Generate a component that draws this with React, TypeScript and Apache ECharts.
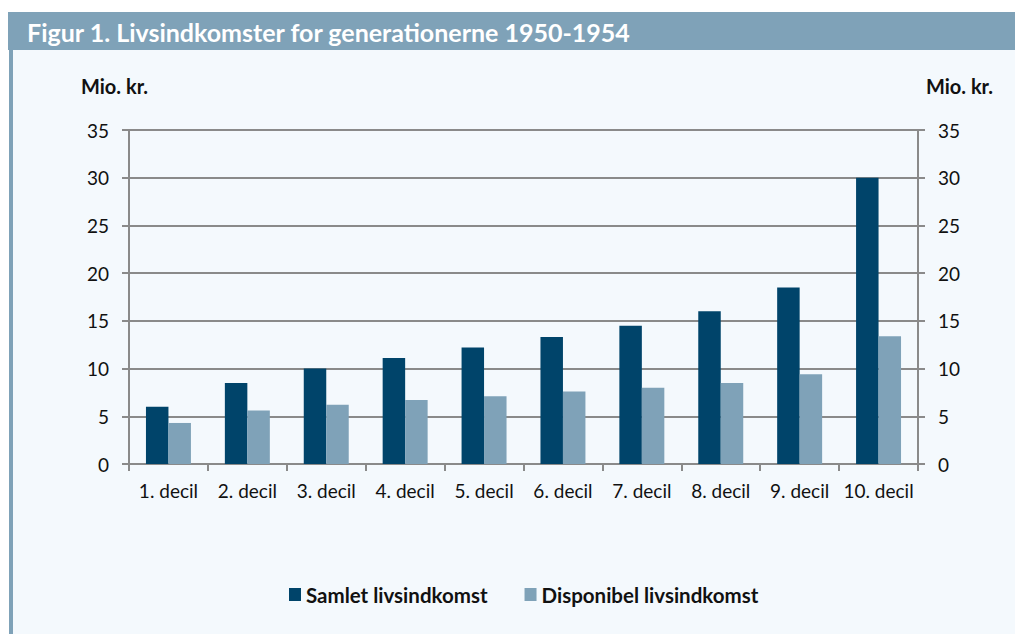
import React, { useEffect, useRef } from "react";
import * as echarts from "echarts";

const categories = [
  "1. decil",
  "2. decil",
  "3. decil",
  "4. decil",
  "5. decil",
  "6. decil",
  "7. decil",
  "8. decil",
  "9. decil",
  "10. decil",
];
const samlet = [6.0, 8.5, 10.0, 11.1, 12.2, 13.3, 14.5, 16.0, 18.5, 30.0];
const disponibel = [4.3, 5.6, 6.2, 6.7, 7.1, 7.6, 8.0, 8.5, 9.4, 13.4];
const seriesNames = ["Samlet livsindkomst", "Disponibel livsindkomst"];
const titleText = "Figur 1. Livsindkomster for generationerne 1950-1954";
const unitText = "Mio. kr.";
const yMin = 0;
const yMax = 35;
const yStep = 5;

const DARK = "#00446a";
const LIGHT = "#7fa2b8";
const GRID = "#8a8a8a";
const BG = "#f4f9fd";
const FONT = "Lato, 'Open Sans', sans-serif";

export default function App() {
  const ref = useRef<HTMLDivElement>(null);
  useEffect(() => {
    if (!ref.current) return;
    const chart = echarts.init(ref.current, undefined, { renderer: "svg" });
    const yAxisBase = {
      type: "value",
      min: yMin,
      max: yMax,
      interval: yStep,
      axisLine: { show: true, lineStyle: { color: GRID, width: 2 } },
      axisTick: { show: true, length: 7, lineStyle: { color: GRID, width: 2 } },
      axisLabel: { color: "#111", fontSize: 19, fontFamily: FONT, margin: 20 },
    };
    chart.setOption({
      animation: false,
      backgroundColor: "#ffffff",
      textStyle: { fontFamily: FONT },
      graphic: [
        { type: "rect", z: -10, silent: true, shape: { x: 8, y: 12, width: 1007, height: 38 }, style: { fill: LIGHT } },
        { type: "rect", z: -10, silent: true, shape: { x: 9, y: 50, width: 4, height: 584 }, style: { fill: LIGHT } },
        { type: "rect", z: -10, silent: true, shape: { x: 13, y: 50, width: 1002, height: 584 }, style: { fill: BG } },
      ],
      title: [
        {
          text: titleText,
          left: 27,
          top: 19,
          z: 10,
          padding: 0,
          textStyle: { color: "#ffffff", fontSize: 25, fontWeight: "bold", fontFamily: FONT },
        },
        {
          text: unitText,
          left: 81,
          top: 76,
          padding: 0,
          textStyle: { color: "#111", fontSize: 20, fontWeight: "bold", fontFamily: FONT },
        },
        {
          text: unitText,
          right: 22,
          top: 76,
          padding: 0,
          textStyle: { color: "#111", fontSize: 20, fontWeight: "bold", fontFamily: FONT },
        },
      ],
      grid: { left: 129, right: 97, top: 130, bottom: 170, containLabel: false },
      legend: {
        data: seriesNames,
        left: 289,
        top: 584,
        padding: 0,
        itemWidth: 12,
        itemHeight: 13,
        itemGap: 37,
        icon: "rect",
        textStyle: {
          color: "#111",
          fontSize: 20.5,
          fontWeight: "bold",
          fontFamily: FONT,
        },
      },
      xAxis: {
        type: "category",
        data: categories,
        axisLine: { show: true, lineStyle: { color: GRID, width: 2 } },
        axisTick: { show: true, length: 7, alignWithLabel: false, lineStyle: { color: GRID, width: 2 } },
        axisLabel: { color: "#111", fontSize: 19, fontFamily: FONT, margin: 17, interval: 0 },
      },
      yAxis: [
        { ...yAxisBase, position: "left", splitLine: { show: true, lineStyle: { color: GRID, width: 2 } } },
        { ...yAxisBase, position: "right", splitLine: { show: false } },
      ],
      series: [
        {
          name: seriesNames[0],
          type: "bar",
          data: samlet,
          yAxisIndex: 0,
          barGap: "0%",
          barCategoryGap: "43%",
          itemStyle: { color: DARK },
        },
        {
          name: seriesNames[1],
          type: "bar",
          data: disponibel,
          yAxisIndex: 0,
          barGap: "0%",
          barCategoryGap: "43%",
          itemStyle: { color: LIGHT },
        },
      ],
    });
    return () => chart.dispose();
  }, []);
  return (
    <div
      ref={ref}
      style={{ position: "absolute", left: 0, top: 0, width: 1015, height: 634 }}
    />
  );
}
